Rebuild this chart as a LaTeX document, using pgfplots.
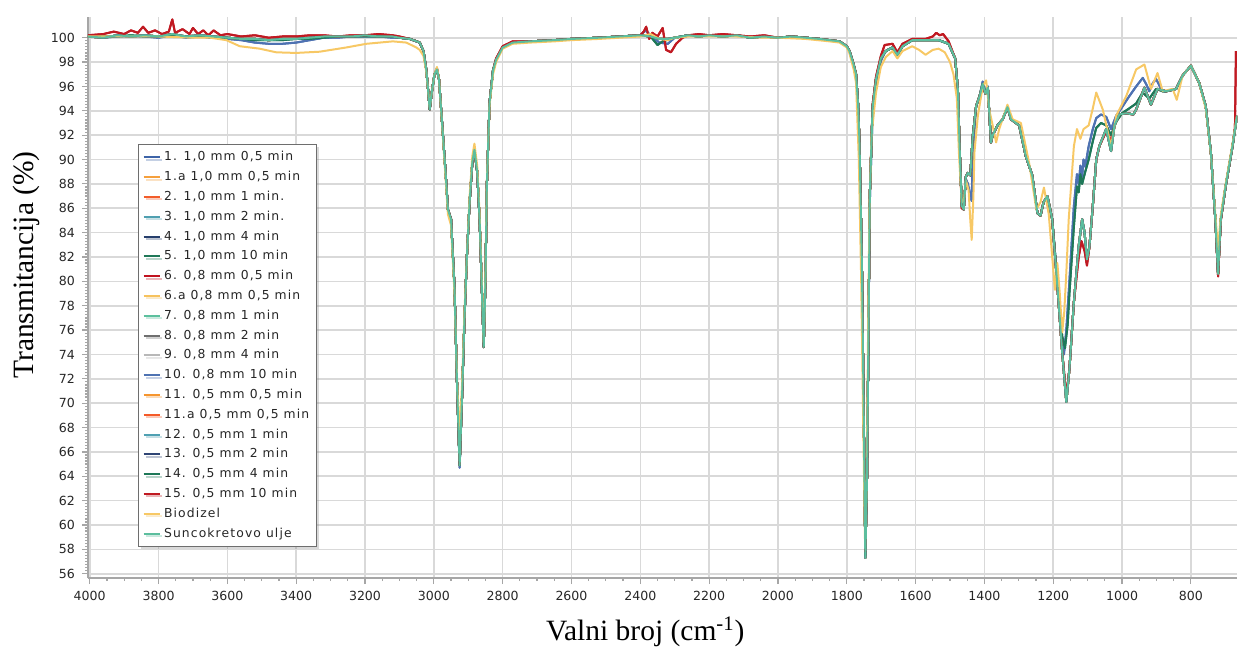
\documentclass[border=0pt]{standalone}
\usepackage{fontspec}
\setmainfont{Liberation Serif}
\newfontfamily\dejavu{DejaVu Sans}
\newfontfamily\dejavuw[LetterSpace=9]{DejaVu Sans}
\usepackage{pgfplots}
\usepackage{pgfplotstable}
\pgfplotsset{compat=1.18}
\usetikzlibrary{shadows}

\definecolor{c1}{HTML}{3E64A8}
\definecolor{c1a}{HTML}{F5A03C}
\definecolor{c2}{HTML}{F25C2A}
\definecolor{c3}{HTML}{4F9FB0}
\definecolor{c4}{HTML}{263E6C}
\definecolor{c5}{HTML}{1F7858}
\definecolor{c6}{HTML}{C1121F}
\definecolor{c6a}{HTML}{F6C25E}
\definecolor{c7}{HTML}{5DC09E}
\definecolor{c8}{HTML}{6F6F6F}
\definecolor{c9}{HTML}{B8B8B8}
\definecolor{c10}{HTML}{4E72B2}
\definecolor{c11}{HTML}{F5952E}
\definecolor{c11a}{HTML}{F45A28}
\definecolor{c12}{HTML}{4FA0B2}
\definecolor{c13}{HTML}{2F4575}
\definecolor{c14}{HTML}{1E7858}
\definecolor{c15}{HTML}{C01A22}
\definecolor{cbio}{HTML}{F7C865}
\definecolor{coil}{HTML}{5CBE9E}
\definecolor{gridgray}{HTML}{D9D9D9}
\definecolor{axisgray}{HTML}{A6A6A6}
\definecolor{legendgray}{HTML}{6E6E6E}

% suncokretovo ulje (most samples lie on it)
\pgfplotstableread[row sep=\\]{
x y\\
4005 100.1\\ 3960 100.0\\ 3920 100.2\\ 3880 100.1\\ 3840 100.2\\ 3800 100.1\\ 3760 100.3\\ 3720 100.1\\
3680 100.2\\ 3640 100.1\\ 3600 100.0\\ 3560 99.9\\ 3520 99.9\\ 3480 99.8\\ 3440 99.9\\ 3400 99.9\\
3360 100.0\\ 3320 100.1\\ 3280 100.1\\ 3240 100.1\\ 3200 100.2\\ 3160 100.1\\ 3120 100.1\\ 3100 100.0\\
3070 99.9\\ 3050 99.7\\ 3041 99.6\\ 3030 98.9\\ 3022 97.4\\ 3016 95.5\\ 3012 94.1\\ 3006 95.5\\
2998 97.0\\ 2991 97.4\\ 2985 96.6\\ 2974 92.2\\ 2966 89.0\\ 2959 85.9\\ 2950 85.1\\ 2940 79.6\\
2932 71.0\\ 2925 64.9\\ 2918 70.5\\ 2911 76.9\\ 2904 82.0\\ 2896 86.5\\ 2888 89.8\\ 2882 90.8\\
2874 89.0\\ 2867 85.1\\ 2860 79.0\\ 2855 74.6\\ 2850 80.0\\ 2846 87.8\\ 2838 94.7\\ 2828 97.3\\
2819 98.2\\ 2800 99.2\\ 2771 99.6\\ 2720 99.7\\ 2650 99.8\\ 2600 99.9\\ 2520 100.0\\ 2460 100.1\\
2400 100.2\\ 2370 100.1\\ 2345 99.9\\ 2320 99.9\\ 2300 100.0\\ 2260 100.2\\ 2230 100.1\\ 2200 100.2\\
2160 100.1\\ 2120 100.2\\ 2080 100.0\\ 2040 100.1\\ 2000 100.0\\ 1960 100.1\\ 1920 100.0\\ 1880 99.9\\
1850 99.8\\ 1821 99.7\\ 1800 99.3\\ 1792 98.9\\ 1780 97.8\\ 1773 97.0\\ 1767 94.5\\ 1763 91.4\\
1756 81.4\\ 1751 69.8\\ 1746 57.3\\ 1741 64.1\\ 1737 75.6\\ 1733 87.1\\ 1725 94.3\\ 1715 96.6\\
1701 98.3\\ 1687 98.9\\ 1667 99.2\\ 1653 98.6\\ 1638 99.3\\ 1610 99.8\\ 1571 99.8\\ 1533 99.8\\
1504 99.5\\ 1485 98.3\\ 1477 95.7\\ 1472 91.0\\ 1466 86.2\\ 1460 85.9\\ 1454 88.6\\ 1448 88.9\\
1441 88.7\\ 1434 91.9\\ 1424 94.4\\ 1414 95.2\\ 1405 96.2\\ 1397 95.4\\ 1390 95.9\\ 1381 91.4\\
1376 92.0\\ 1362 92.8\\ 1347 93.3\\ 1333 94.3\\ 1323 93.3\\ 1299 92.8\\ 1280 90.3\\ 1261 88.7\\
1246 85.6\\ 1237 85.4\\ 1228 86.5\\ 1217 87.0\\ 1203 85.1\\ 1188 79.6\\ 1174 74.2\\ 1162 70.1\\
1153 72.8\\ 1140 78.3\\ 1126 82.9\\ 1116 85.1\\ 1109 84.0\\ 1102 81.8\\ 1095 82.8\\ 1085 86.2\\
1075 90.0\\ 1066 91.1\\ 1046 92.5\\ 1032 90.7\\ 1022 92.8\\ 1008 93.7\\ 988 93.8\\ 967 93.7\\
959 94.1\\ 935 95.9\\ 916 94.5\\ 897 95.8\\ 872 95.6\\ 843 95.8\\ 824 96.9\\ 800 97.7\\
776 96.3\\ 757 94.4\\ 742 90.6\\ 729 85.1\\ 721 80.6\\ 713 85.1\\ 699 87.8\\ 679 91.1\\
666 93.6\\
}\oil

% uzorci 1. i 10.
\pgfplotstableread[row sep=\\]{
x y\\
4005 100.1\\ 3960 100.0\\ 3920 100.1\\ 3880 100.1\\ 3840 100.1\\ 3800 100.0\\ 3760 100.2\\ 3720 100.0\\
3680 100.1\\ 3640 100.0\\ 3600 99.9\\ 3560 99.8\\ 3520 99.6\\ 3480 99.5\\ 3440 99.5\\ 3400 99.6\\
3360 99.8\\ 3320 100.0\\ 3280 100.0\\ 3240 100.1\\ 3200 100.1\\ 3160 100.1\\ 3120 100.0\\ 3100 100.0\\
3070 99.9\\ 3050 99.7\\ 3041 99.6\\ 3030 98.9\\ 3022 97.4\\ 3016 95.5\\ 3012 94.1\\ 3006 95.5\\
2998 97.0\\ 2991 97.4\\ 2985 96.6\\ 2974 92.2\\ 2966 89.0\\ 2959 85.9\\ 2950 85.1\\ 2940 79.6\\
2932 71.0\\ 2925 64.7\\ 2918 70.5\\ 2911 76.9\\ 2904 82.0\\ 2896 86.5\\ 2888 89.8\\ 2882 90.8\\
2874 89.0\\ 2867 85.1\\ 2860 79.0\\ 2855 74.6\\ 2850 80.0\\ 2846 87.8\\ 2838 94.7\\ 2828 97.3\\
2819 98.2\\ 2800 99.2\\ 2771 99.6\\ 2720 99.7\\ 2650 99.8\\ 2600 99.9\\ 2520 100.0\\ 2460 100.1\\
2400 100.2\\ 2385 100.6\\ 2370 100.2\\ 2345 99.6\\ 2320 99.5\\ 2300 100.0\\ 2260 100.2\\ 2230 100.1\\
2200 100.2\\ 2160 100.1\\ 2120 100.2\\ 2080 100.0\\ 2040 100.1\\ 2000 100.0\\ 1960 100.1\\ 1920 100.0\\
1880 99.9\\ 1850 99.8\\ 1821 99.7\\ 1800 99.3\\ 1792 98.9\\ 1780 97.8\\ 1773 97.0\\ 1767 94.5\\
1763 91.4\\ 1756 81.4\\ 1751 69.8\\ 1746 57.6\\ 1741 64.1\\ 1737 75.6\\ 1733 86.5\\ 1725 93.6\\
1715 96.2\\ 1701 98.1\\ 1687 98.9\\ 1667 99.2\\ 1653 98.6\\ 1638 99.3\\ 1610 99.8\\ 1571 99.8\\
1533 99.8\\ 1504 99.5\\ 1485 98.3\\ 1477 95.7\\ 1472 91.0\\ 1466 86.2\\ 1460 85.9\\ 1454 88.4\\
1448 88.0\\ 1441 87.0\\ 1437 86.6\\ 1434 90.5\\ 1424 94.4\\ 1414 95.2\\ 1405 96.4\\ 1397 95.6\\
1390 96.0\\ 1381 91.4\\ 1376 92.0\\ 1362 92.8\\ 1347 93.3\\ 1333 94.3\\ 1323 93.3\\ 1299 92.8\\
1280 90.3\\ 1261 88.7\\ 1246 85.6\\ 1237 85.4\\ 1228 86.5\\ 1217 87.0\\ 1203 85.1\\ 1188 80.0\\
1174 75.0\\ 1169 74.0\\ 1162 76.0\\ 1153 80.0\\ 1140 86.2\\ 1131 88.8\\ 1126 88.0\\ 1121 89.5\\
1116 88.6\\ 1112 90.0\\ 1107 89.4\\ 1097 91.1\\ 1085 92.5\\ 1075 93.4\\ 1061 93.7\\ 1046 93.5\\
1032 92.5\\ 1017 93.6\\ 1000 94.3\\ 979 95.2\\ 959 96.0\\ 940 96.7\\ 930 96.2\\ 921 95.6\\
910 96.3\\ 901 96.6\\ 890 96.0\\ 882 95.6\\ 872 95.6\\ 843 95.8\\ 824 96.9\\ 800 97.7\\
776 96.3\\ 757 94.4\\ 742 90.6\\ 729 85.1\\ 721 80.8\\ 713 85.1\\ 699 87.8\\ 679 91.1\\
666 93.6\\
}\blueser

% uzorci 5. i 14.
\pgfplotstableread[row sep=\\]{
x y\\
4005 100.1\\ 3960 100.1\\ 3920 100.1\\ 3880 100.2\\ 3840 100.1\\ 3800 100.1\\ 3760 100.2\\ 3720 100.1\\
3680 100.1\\ 3640 100.0\\ 3600 100.0\\ 3560 99.9\\ 3520 99.8\\ 3480 99.8\\ 3440 99.8\\ 3400 99.9\\
3360 99.9\\ 3320 100.0\\ 3280 100.1\\ 3240 100.1\\ 3200 100.1\\ 3160 100.1\\ 3120 100.1\\ 3100 100.0\\
3070 99.9\\ 3050 99.7\\ 3041 99.6\\ 3030 98.9\\ 3022 97.4\\ 3016 95.5\\ 3012 94.1\\ 3006 95.5\\
2998 97.0\\ 2991 97.4\\ 2985 96.6\\ 2974 92.2\\ 2966 89.0\\ 2959 85.9\\ 2950 85.1\\ 2940 79.6\\
2932 71.0\\ 2925 64.9\\ 2918 70.5\\ 2911 76.9\\ 2904 82.0\\ 2896 86.5\\ 2888 89.8\\ 2882 90.8\\
2874 89.0\\ 2867 85.1\\ 2860 79.0\\ 2855 74.6\\ 2850 80.0\\ 2846 87.8\\ 2838 94.7\\ 2828 97.3\\
2819 98.2\\ 2800 99.2\\ 2771 99.6\\ 2720 99.7\\ 2650 99.8\\ 2600 99.9\\ 2520 100.0\\ 2460 100.1\\
2400 100.2\\ 2370 100.1\\ 2350 99.4\\ 2335 99.7\\ 2300 100.0\\ 2260 100.2\\ 2230 100.1\\ 2200 100.2\\
2160 100.1\\ 2120 100.2\\ 2080 100.0\\ 2040 100.1\\ 2000 100.0\\ 1960 100.1\\ 1920 100.0\\ 1880 99.9\\
1850 99.8\\ 1821 99.7\\ 1800 99.3\\ 1792 98.9\\ 1780 97.8\\ 1773 97.0\\ 1767 94.5\\ 1763 91.4\\
1756 81.4\\ 1751 69.8\\ 1746 57.5\\ 1741 64.1\\ 1737 75.6\\ 1733 87.1\\ 1725 94.3\\ 1715 96.6\\
1701 98.3\\ 1687 98.9\\ 1667 99.2\\ 1653 98.6\\ 1638 99.3\\ 1610 99.8\\ 1571 99.8\\ 1533 99.8\\
1504 99.5\\ 1485 98.3\\ 1477 95.7\\ 1472 91.0\\ 1466 86.2\\ 1460 85.9\\ 1454 88.6\\ 1448 88.9\\
1441 88.7\\ 1434 91.9\\ 1424 94.4\\ 1414 95.2\\ 1405 96.2\\ 1397 95.4\\ 1390 95.9\\ 1381 91.4\\
1376 92.0\\ 1362 92.8\\ 1347 93.3\\ 1333 94.3\\ 1323 93.3\\ 1299 92.8\\ 1280 90.3\\ 1261 88.7\\
1246 85.6\\ 1237 85.4\\ 1228 86.5\\ 1217 87.0\\ 1203 85.1\\ 1188 80.0\\ 1174 75.5\\ 1166 74.5\\
1158 76.5\\ 1153 79.0\\ 1140 84.5\\ 1131 87.8\\ 1126 87.3\\ 1121 88.8\\ 1116 88.0\\ 1107 89.0\\
1097 90.0\\ 1085 91.5\\ 1075 92.6\\ 1061 93.0\\ 1046 92.8\\ 1032 92.0\\ 1017 93.1\\ 1000 93.8\\
979 94.2\\ 959 94.6\\ 940 95.5\\ 921 95.0\\ 901 95.8\\ 882 95.6\\ 872 95.6\\ 843 95.8\\
824 96.9\\ 800 97.7\\ 776 96.3\\ 757 94.4\\ 742 90.6\\ 729 85.1\\ 721 80.6\\ 713 85.1\\
699 87.8\\ 679 91.1\\ 666 93.6\\
}\greenser

% uzorci 6. i 15.
\pgfplotstableread[row sep=\\]{
x y\\
4005 100.2\\ 3960 100.3\\ 3930 100.5\\ 3900 100.3\\ 3880 100.6\\ 3860 100.4\\ 3845 100.9\\ 3830 100.4\\
3810 100.6\\ 3790 100.3\\ 3770 100.5\\ 3760 101.5\\ 3752 100.4\\ 3730 100.7\\ 3710 100.3\\ 3700 100.8\\
3685 100.3\\ 3670 100.6\\ 3655 100.2\\ 3640 100.6\\ 3620 100.2\\ 3600 100.3\\ 3560 100.1\\ 3520 100.2\\
3480 100.0\\ 3440 100.1\\ 3400 100.1\\ 3360 100.2\\ 3320 100.2\\ 3280 100.1\\ 3240 100.2\\ 3200 100.2\\
3160 100.3\\ 3120 100.2\\ 3100 100.1\\ 3070 99.9\\ 3050 99.7\\ 3041 99.6\\ 3030 98.9\\ 3022 97.4\\
3016 95.5\\ 3012 94.1\\ 3006 95.5\\ 2998 97.0\\ 2991 97.5\\ 2985 96.6\\ 2974 92.2\\ 2966 89.0\\
2959 85.9\\ 2950 85.1\\ 2940 79.6\\ 2932 71.0\\ 2925 65.0\\ 2918 70.5\\ 2911 76.9\\ 2904 82.0\\
2896 86.5\\ 2888 89.8\\ 2882 90.8\\ 2874 89.0\\ 2867 85.1\\ 2860 79.0\\ 2855 74.6\\ 2850 80.0\\
2846 87.8\\ 2838 94.7\\ 2828 97.3\\ 2819 98.3\\ 2800 99.3\\ 2771 99.7\\ 2720 99.7\\ 2650 99.8\\
2600 99.9\\ 2520 100.0\\ 2460 100.1\\ 2400 100.2\\ 2390 100.5\\ 2383 100.9\\ 2374 99.9\\ 2365 100.4\\
2350 100.1\\ 2335 100.8\\ 2325 99.0\\ 2318 98.9\\ 2311 98.8\\ 2296 99.5\\ 2277 100.0\\ 2260 100.2\\
2230 100.3\\ 2200 100.2\\ 2160 100.3\\ 2120 100.2\\ 2080 100.1\\ 2040 100.2\\ 2000 100.0\\ 1960 100.1\\
1920 100.0\\ 1880 99.9\\ 1850 99.8\\ 1821 99.7\\ 1800 99.3\\ 1792 98.9\\ 1780 97.8\\ 1773 97.0\\
1767 94.5\\ 1763 91.4\\ 1756 81.4\\ 1751 69.8\\ 1746 57.8\\ 1741 64.1\\ 1737 75.6\\ 1733 87.1\\
1725 94.5\\ 1715 96.8\\ 1701 98.5\\ 1690 99.4\\ 1667 99.5\\ 1653 98.8\\ 1638 99.5\\ 1610 99.9\\
1571 99.9\\ 1550 100.1\\ 1540 100.4\\ 1530 100.2\\ 1520 100.3\\ 1504 99.7\\ 1485 98.3\\ 1477 95.7\\
1472 91.0\\ 1466 86.0\\ 1460 85.9\\ 1454 88.6\\ 1448 88.9\\ 1441 88.7\\ 1434 91.9\\ 1424 94.4\\
1414 95.2\\ 1405 96.0\\ 1397 95.4\\ 1390 95.9\\ 1381 91.4\\ 1376 92.0\\ 1362 92.8\\ 1347 93.3\\
1333 94.3\\ 1323 93.3\\ 1299 92.8\\ 1280 90.3\\ 1261 88.7\\ 1246 85.6\\ 1237 85.4\\ 1228 86.5\\
1217 87.0\\ 1203 85.1\\ 1188 79.6\\ 1174 74.2\\ 1162 70.6\\ 1153 72.8\\ 1140 78.3\\ 1126 82.0\\
1118 83.3\\ 1109 82.5\\ 1102 81.3\\ 1095 82.8\\ 1085 86.2\\ 1075 90.0\\ 1066 91.1\\ 1046 92.3\\
1037 91.9\\ 1032 91.2\\ 1022 92.8\\ 1008 93.7\\ 988 93.8\\ 967 93.7\\ 959 94.1\\ 935 95.9\\
916 94.5\\ 897 95.8\\ 872 95.6\\ 843 95.8\\ 824 96.9\\ 800 97.7\\ 776 96.3\\ 757 94.4\\
742 90.6\\ 729 85.1\\ 721 80.4\\ 713 85.0\\ 699 87.8\\ 679 91.1\\ 672 92.6\\ 669 98.9\\
}\redser

% biodizel
\pgfplotstableread[row sep=\\]{
x y\\
4005 100.1\\ 3900 100.1\\ 3800 100.1\\ 3700 100.0\\ 3650 100.0\\ 3603 99.8\\ 3564 99.3\\ 3506 99.1\\
3458 98.8\\ 3400 98.75\\ 3332 98.85\\ 3254 99.2\\ 3196 99.5\\ 3119 99.7\\ 3080 99.6\\ 3051 99.2\\
3041 99.0\\ 3030 98.5\\ 3022 97.2\\ 3016 95.5\\ 3012 94.3\\ 3006 95.5\\ 2998 97.0\\ 2991 97.6\\
2985 96.6\\ 2974 92.0\\ 2959 85.5\\ 2950 84.6\\ 2940 79.0\\ 2932 71.5\\ 2925 67.5\\ 2918 71.5\\
2911 77.5\\ 2896 87.0\\ 2888 90.3\\ 2882 91.3\\ 2874 89.5\\ 2867 85.5\\ 2860 79.5\\ 2855 75.0\\
2850 80.5\\ 2846 88.0\\ 2838 94.5\\ 2828 97.0\\ 2819 98.0\\ 2800 99.1\\ 2771 99.5\\ 2720 99.6\\
2650 99.7\\ 2600 99.8\\ 2520 99.9\\ 2460 100.0\\ 2400 100.1\\ 2370 100.3\\ 2345 99.9\\ 2320 99.8\\
2300 100.0\\ 2260 100.1\\ 2200 100.1\\ 2120 100.1\\ 2040 100.0\\ 2000 100.0\\ 1920 99.9\\ 1850 99.7\\
1821 99.6\\ 1800 99.2\\ 1792 98.7\\ 1780 97.4\\ 1773 96.3\\ 1765 90.0\\ 1758 80.0\\ 1752 68.0\\
1747 58.8\\ 1742 63.5\\ 1738 76.0\\ 1734 86.0\\ 1728 92.0\\ 1715 95.5\\ 1701 97.6\\ 1687 98.4\\
1667 98.9\\ 1653 98.3\\ 1638 98.9\\ 1610 99.3\\ 1590 99.0\\ 1571 98.6\\ 1550 99.0\\ 1533 99.1\\
1515 98.8\\ 1500 98.0\\ 1490 97.0\\ 1480 95.0\\ 1474 90.5\\ 1466 86.5\\ 1460 86.5\\ 1454 88.3\\
1446 87.5\\ 1441 85.0\\ 1437 83.4\\ 1432 87.0\\ 1429 90.6\\ 1419 93.6\\ 1405 96.0\\ 1395 96.5\\
1386 94.1\\ 1376 92.8\\ 1366 91.4\\ 1357 92.5\\ 1333 94.5\\ 1318 93.3\\ 1294 93.0\\ 1270 89.7\\
1249 85.9\\ 1237 86.5\\ 1227 87.7\\ 1213 85.5\\ 1203 82.0\\ 1195 79.3\\ 1188 81.5\\ 1181 79.0\\
1174 75.8\\ 1168 77.5\\ 1162 80.7\\ 1155 85.1\\ 1140 91.1\\ 1131 92.5\\ 1121 91.7\\ 1112 92.5\\
1097 92.8\\ 1085 94.2\\ 1075 95.5\\ 1056 94.1\\ 1041 92.2\\ 1032 91.1\\ 1017 93.6\\ 988 95.2\\
959 97.4\\ 935 97.8\\ 916 95.8\\ 897 97.1\\ 882 95.6\\ 853 95.8\\ 841 94.9\\ 824 96.9\\
800 97.7\\ 776 96.3\\ 757 94.2\\ 742 90.5\\ 729 85.5\\ 721 82.6\\ 713 85.5\\ 699 88.0\\
679 91.3\\ 666 93.6\\
}\bio

\begin{document}
\begin{tikzpicture}
\begin{axis}[
    width=574.5bp, height=280.5bp, scale only axis,
    x dir=reverse,
    xmin=666, xmax=4005, ymin=55.65, ymax=101.7,
    axis x line*=bottom, axis y line*=left,
    axis line style={-, draw=axisgray, line width=0.8bp},
    xtick={800,1000,...,4000}, ytick={56,58,...,100},
    minor x tick num=3, minor y tick num=7,
    tick align=outside, major tick length=3bp, minor tick length=1.6bp,
    every tick/.style={draw=axisgray, line width=0.6bp},
    grid=major, major grid style={draw=gridgray, line width=0.8bp},
    ticklabel style={font=\dejavu\fontsize{6.3}{7}\selectfont, text=black!85},
    /pgf/number format/assume math mode=true,
    /pgf/number format/1000 sep={},
    xlabel={Valni broj (cm\textsuperscript{-1})},
    ylabel={Transmitancija (\%)},
    label style={font=\fontsize{14.8}{16}\selectfont},
    xlabel style={at={(axis description cs:0.485,0)}, yshift=-27bp, anchor=center},
    ylabel style={at={(axis description cs:-0.054,0.558)}, anchor=center},
    no markers,
    every axis plot/.append style={line width=1bp, line join=round},
    legend style={at={(axis description cs:0.0435,0.7736)}, anchor=north west,
        draw=legendgray, line width=0.7bp, fill=white,
        drop shadow={shadow xshift=1.2bp, shadow yshift=-1.2bp, opacity=0.3},
        font=\dejavuw\fontsize{6.2}{7}\selectfont, text=black!85,
        inner xsep=2bp, inner ysep=1.4bp,
        nodes={text height=5bp, text depth=1.5bp, inner ysep=1.7bp, inner xsep=1.7bp}},
    legend cell align=left,
    legend image code/.code={\draw[#1, line width=1bp] (0bp,0bp) -- (8bp,0bp);},
]
\addplot[c1] table[x=x, y=y]{\blueser};   \addlegendentry{1. 1,0 mm 0,5 min}
\addplot[c1a] table[x=x, y=y]{\oil};      \addlegendentry{1.a 1,0 mm 0,5 min}
\addplot[c2] table[x=x, y=y]{\oil};       \addlegendentry{2. 1,0 mm 1 min.}
\addplot[c3] table[x=x, y=y]{\oil};       \addlegendentry{3. 1,0 mm 2 min.}
\addplot[c4] table[x=x, y=y]{\oil};       \addlegendentry{4. 1,0 mm 4 min}
\addplot[c5] table[x=x, y=y]{\greenser};  \addlegendentry{5. 1,0 mm 10 min}
\addplot[c6] table[x=x, y=y]{\redser};    \addlegendentry{6. 0,8 mm 0,5 min}
\addplot[c6a] table[x=x, y=y]{\oil};      \addlegendentry{6.a 0,8 mm 0,5 min}
\addplot[c7] table[x=x, y=y]{\oil};       \addlegendentry{7. 0,8 mm 1 min}
\addplot[c8] table[x=x, y=y]{\oil};       \addlegendentry{8. 0,8 mm 2 min}
\addplot[c9] table[x=x, y=y]{\oil};       \addlegendentry{9. 0,8 mm 4 min}
\addplot[c10] table[x=x, y=y]{\blueser};  \addlegendentry{10. 0,8 mm 10 min}
\addplot[c11] table[x=x, y=y]{\oil};      \addlegendentry{11. 0,5 mm 0,5 min}
\addplot[c11a] table[x=x, y=y]{\oil};     \addlegendentry{11.a 0,5 mm 0,5 min}
\addplot[c12] table[x=x, y=y]{\oil};      \addlegendentry{12. 0,5 mm 1 min}
\addplot[c13] table[x=x, y=y]{\oil};      \addlegendentry{13. 0,5 mm 2 min}
\addplot[c14] table[x=x, y=y]{\greenser}; \addlegendentry{14. 0,5 mm 4 min}
\addplot[c15] table[x=x, y=y]{\redser};   \addlegendentry{15. 0,5 mm 10 min}
\addplot[cbio] table[x=x, y=y]{\bio};     \addlegendentry{Biodizel}
\addplot[coil] table[x=x, y=y]{\oil};     \addlegendentry{Suncokretovo ulje}
\coordinate (ll) at (axis description cs:0,0);
\coordinate (ur) at (axis description cs:1,1);
\end{axis}
\pgfresetboundingbox
\path ([xshift=-44bp, yshift=-36bp]ll) rectangle ([xshift=0.5bp, yshift=8.5bp]ur);
\end{tikzpicture}
\end{document}
